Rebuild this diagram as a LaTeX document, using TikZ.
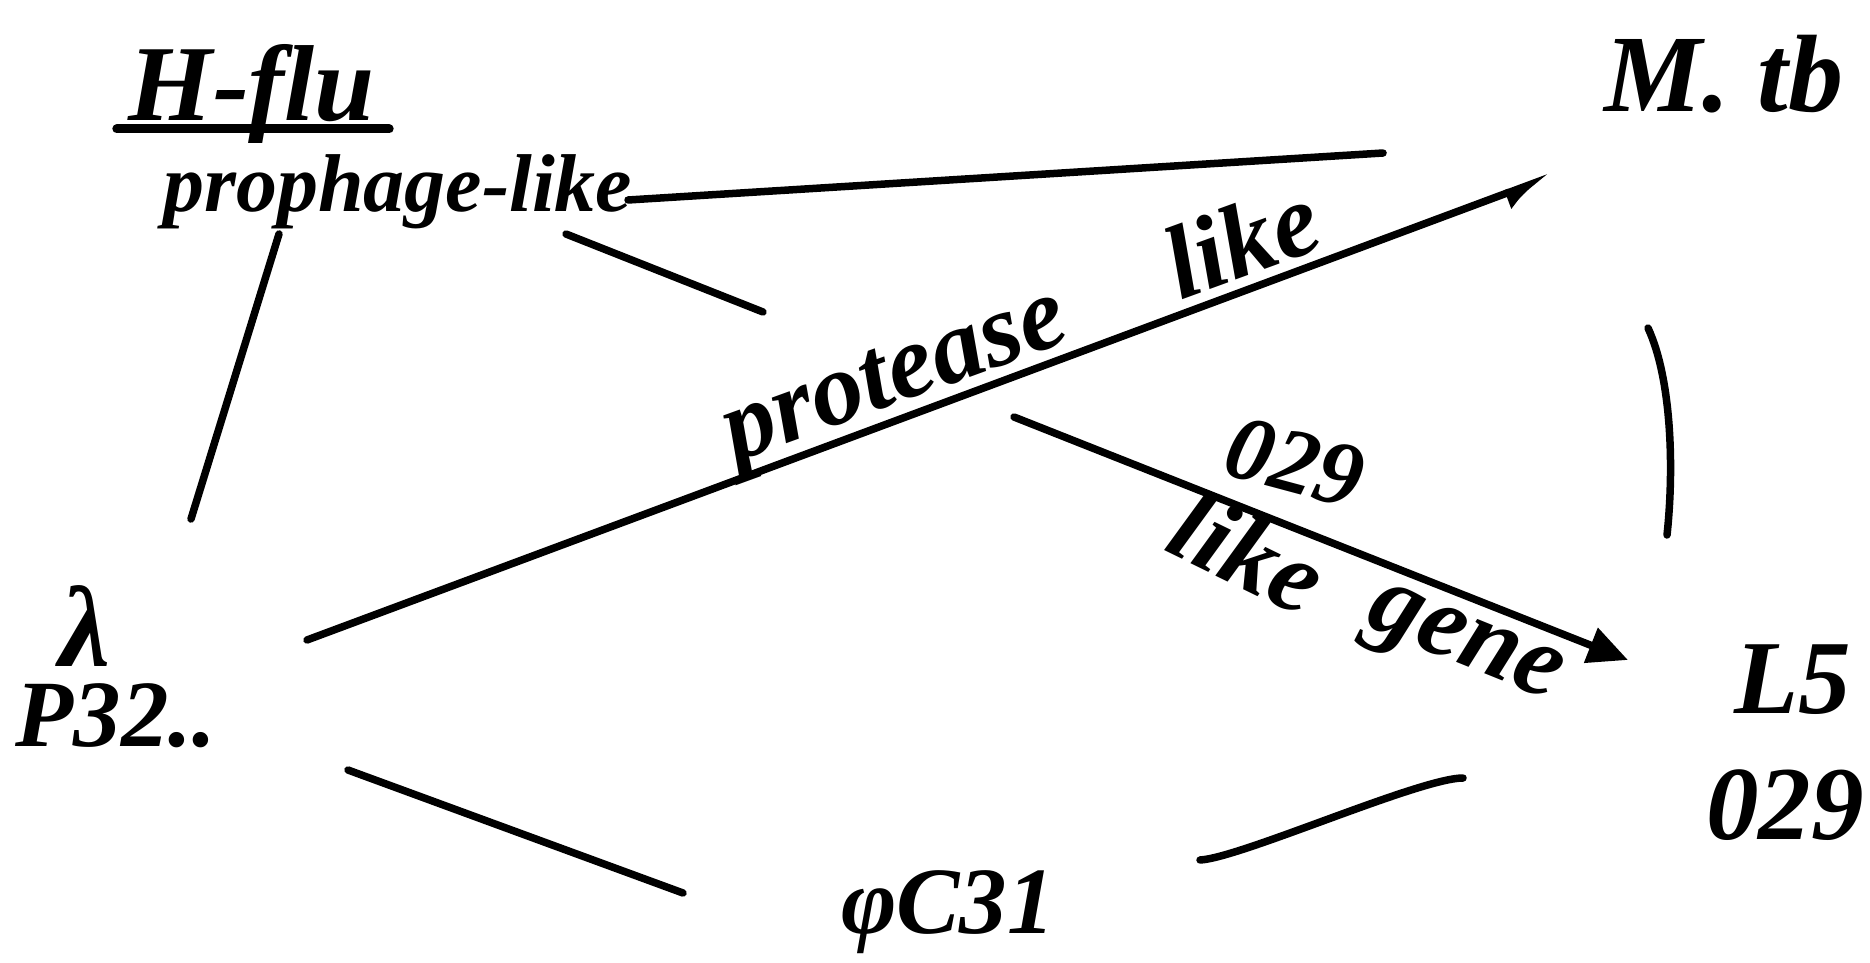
\documentclass[tikz,border=0pt]{standalone}
\usepackage{fontspec}
\setmainfont{Liberation Serif}
\usetikzlibrary{arrows.meta}
\tikzset{
  hand/.style={font=\fontsize{#1}{#1}\selectfont\bfseries\itshape, inner sep=0pt, text=black},
  stroke/.style={line width=7.5pt, line cap=round, line join=round, draw=black},
}
\begin{document}
\begin{tikzpicture}[x=1pt,y=-1pt]
\path[use as bounding box, fill=white] (0,0) rectangle (1870,963);

% nodes
\node[hand=108pt, anchor=base] (hflu) at (252,121) {H-flu};
\node[hand=82pt, anchor=base west] (proph) at (163,211) {prophage-like};
\node[hand=110pt] (mtb) at (1724,74) {M. tb};
\node[hand=115pt] (lam) at (85,626) {λ};
\node[hand=95pt] (p32) at (116,716) {P32..};
\node[hand=105pt] (l5) at (1793,680) {L5};
\node[hand=105pt] (o29) at (1785,805) {029};
\node[hand=95pt] (phic) at (948,912) {φC31};

% labels
\node[hand=104pt, rotate=20] (prot) at (1023,331) {protease\hspace{115pt}like};
\node[hand=92pt, rotate=-15] (lab029) at (1295,462) {029};
\node[hand=104pt, rotate=-26] (lk) at (1248,552) {like};
\node[hand=104pt, rotate=-22] (gn) at (1462,650) {gene};

% underline of H-flu
\draw[stroke, line width=9pt] ([xshift=-12pt,yshift=-8pt]hflu.base west) -- ([xshift=14pt,yshift=-8pt]hflu.base east);

% connector end points
\coordinate (e1s) at (279,234);
\coordinate (e1e) at (191,519);
\coordinate (p1s) at (628,200);
\coordinate (p1e) at (1383,153);
\coordinate (h2s) at (566,234);
\coordinate (h2e) at (763,312);
\coordinate (h3s) at (1014,417);
\coordinate (h3e) at (1628,660);
\coordinate (lms) at (307,640);
\coordinate (lme) at (1550,177);
\coordinate (mls) at (1648,328);
\coordinate (mle) at (1667,535);
\coordinate (lps) at (348,770);
\coordinate (lpe) at (683,893);
\coordinate (pls) at (1200,860);
\coordinate (ple) at (1463,778);

% connectors
\draw[stroke] (e1s) -- (e1e);
\draw[stroke] (p1s) -- (p1e);
\draw[stroke] (h2s) -- (h2e);
\draw[stroke, -{Triangle[length=40pt,width=36pt]}] (h3s) -- (h3e);
\draw[stroke, -{Latex[length=36pt,width=34pt,harpoon,swap]}] (lms) -- (lme);
\draw[stroke] (mls) .. controls (1672,380) and (1674,470) .. (mle);
\draw[stroke] (lps) -- (lpe);
\draw[stroke] (pls) .. controls (1240,858) and (1420,778) .. (ple);
\end{tikzpicture}
\end{document}
